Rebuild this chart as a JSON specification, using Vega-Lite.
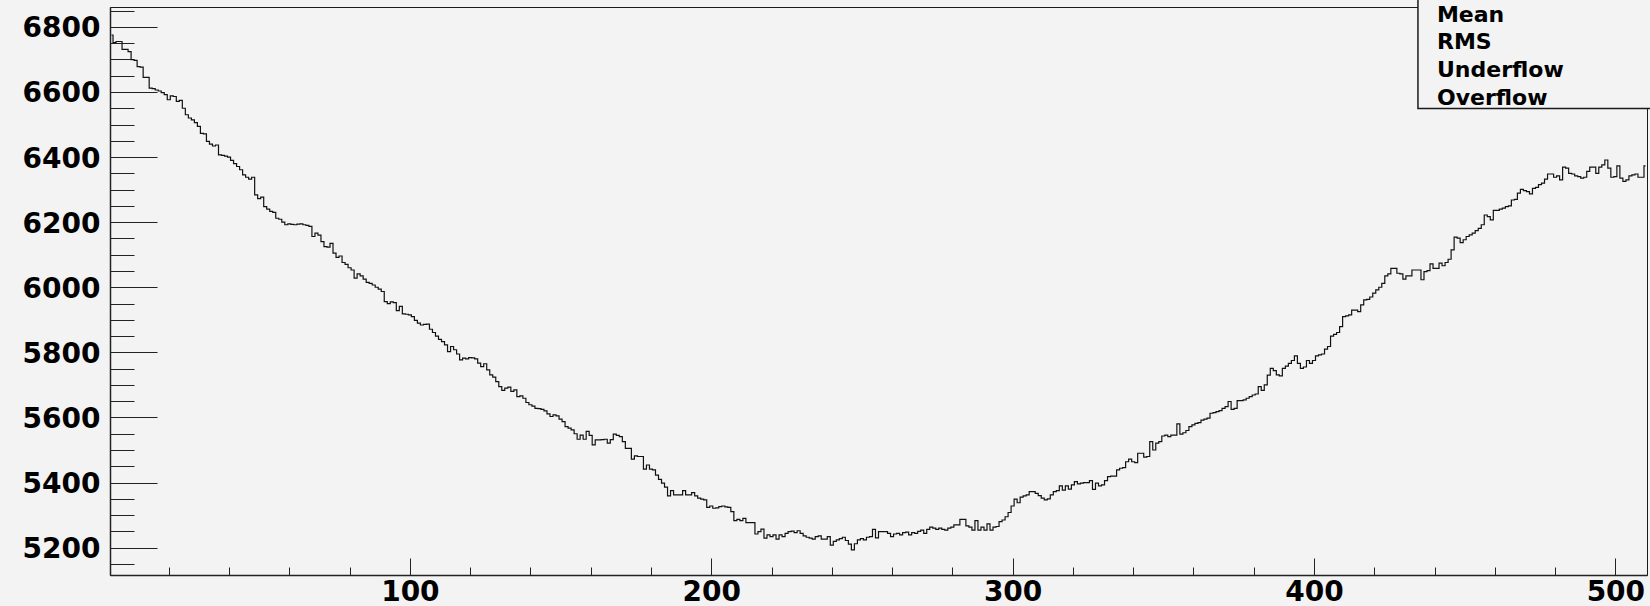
{
  "$schema": "https://vega.github.io/schema/vega-lite/v6.json",
  "width": 1537,
  "height": 568,
  "autosize": {"type": "none"},
  "padding": {"left": 110, "top": 7, "right": 3, "bottom": 31},
  "background": "#f3f3f3",
  "config": {
    "view": {"stroke": "#1a1a1a", "strokeWidth": 1, "fill": "#f3f3f3"},
    "axis": {
      "grid": false,
      "title": null,
      "labelFont": "DejaVu Sans",
      "labelFontWeight": "bold",
      "labelFontSize": 28,
      "labelColor": "#000",
      "labelOverlap": false,
      "labelFlush": false,
      "tickColor": "#222",
      "tickWidth": 1,
      "domainColor": "#222",
      "domainWidth": 1.5
    }
  },
  "datasets": {
    "spectrum": [
      {"ch":1,"n":6775},{"ch":2,"n":6752},{"ch":3,"n":6755},{"ch":4,"n":6755},{"ch":5,"n":6731},{"ch":6,"n":6731},{"ch":7,"n":6724},{"ch":8,"n":6699},{"ch":9,"n":6697},{"ch":10,"n":6678},
      {"ch":11,"n":6676},{"ch":12,"n":6645},{"ch":13,"n":6645},{"ch":14,"n":6612},{"ch":15,"n":6610},{"ch":16,"n":6606},{"ch":17,"n":6603},{"ch":18,"n":6598},{"ch":19,"n":6592},{"ch":20,"n":6576},
      {"ch":21,"n":6588},{"ch":22,"n":6586},{"ch":23,"n":6571},{"ch":24,"n":6574},{"ch":25,"n":6550},{"ch":26,"n":6530},{"ch":27,"n":6520},{"ch":28,"n":6514},{"ch":29,"n":6506},{"ch":30,"n":6494},
      {"ch":31,"n":6473},{"ch":32,"n":6471},{"ch":33,"n":6448},{"ch":34,"n":6440},{"ch":35,"n":6434},{"ch":36,"n":6437},{"ch":37,"n":6407},{"ch":38,"n":6405},{"ch":39,"n":6403},{"ch":40,"n":6400},
      {"ch":41,"n":6390},{"ch":42,"n":6380},{"ch":43,"n":6371},{"ch":44,"n":6361},{"ch":45,"n":6345},{"ch":46,"n":6338},{"ch":47,"n":6332},{"ch":48,"n":6338},{"ch":49,"n":6284},{"ch":50,"n":6272},
      {"ch":51,"n":6277},{"ch":52,"n":6248},{"ch":53,"n":6240},{"ch":54,"n":6233},{"ch":55,"n":6230},{"ch":56,"n":6212},{"ch":57,"n":6209},{"ch":58,"n":6200},{"ch":59,"n":6192},{"ch":60,"n":6195},
      {"ch":61,"n":6193},{"ch":62,"n":6192},{"ch":63,"n":6194},{"ch":64,"n":6195},{"ch":65,"n":6192},{"ch":66,"n":6190},{"ch":67,"n":6187},{"ch":68,"n":6156},{"ch":69,"n":6166},{"ch":70,"n":6160},
      {"ch":71,"n":6140},{"ch":72,"n":6125},{"ch":73,"n":6123},{"ch":74,"n":6135},{"ch":75,"n":6105},{"ch":76,"n":6092},{"ch":77,"n":6096},{"ch":78,"n":6076},{"ch":79,"n":6070},{"ch":80,"n":6060},
      {"ch":81,"n":6053},{"ch":82,"n":6028},{"ch":83,"n":6041},{"ch":84,"n":6035},{"ch":85,"n":6025},{"ch":86,"n":6015},{"ch":87,"n":6012},{"ch":88,"n":6007},{"ch":89,"n":6000},{"ch":90,"n":5994},
      {"ch":91,"n":5987},{"ch":92,"n":5956},{"ch":93,"n":5950},{"ch":94,"n":5955},{"ch":95,"n":5953},{"ch":96,"n":5928},{"ch":97,"n":5941},{"ch":98,"n":5918},{"ch":99,"n":5917},{"ch":100,"n":5915},
      {"ch":101,"n":5910},{"ch":102,"n":5898},{"ch":103,"n":5890},{"ch":104,"n":5884},{"ch":105,"n":5886},{"ch":106,"n":5887},{"ch":107,"n":5871},{"ch":108,"n":5861},{"ch":109,"n":5850},{"ch":110,"n":5840},
      {"ch":111,"n":5833},{"ch":112,"n":5823},{"ch":113,"n":5802},{"ch":114,"n":5818},{"ch":115,"n":5808},{"ch":116,"n":5795},{"ch":117,"n":5777},{"ch":118,"n":5782},{"ch":119,"n":5780},{"ch":120,"n":5784},
      {"ch":121,"n":5783},{"ch":122,"n":5780},{"ch":123,"n":5767},{"ch":124,"n":5756},{"ch":125,"n":5765},{"ch":126,"n":5746},{"ch":127,"n":5731},{"ch":128,"n":5724},{"ch":129,"n":5710},{"ch":130,"n":5695},
      {"ch":131,"n":5683},{"ch":132,"n":5690},{"ch":133,"n":5693},{"ch":134,"n":5680},{"ch":135,"n":5685},{"ch":136,"n":5664},{"ch":137,"n":5666},{"ch":138,"n":5659},{"ch":139,"n":5646},{"ch":140,"n":5639},
      {"ch":141,"n":5635},{"ch":142,"n":5628},{"ch":143,"n":5627},{"ch":144,"n":5625},{"ch":145,"n":5620},{"ch":146,"n":5611},{"ch":147,"n":5603},{"ch":148,"n":5608},{"ch":149,"n":5605},{"ch":150,"n":5595},
      {"ch":151,"n":5587},{"ch":152,"n":5572},{"ch":153,"n":5567},{"ch":154,"n":5562},{"ch":155,"n":5550},{"ch":156,"n":5533},{"ch":157,"n":5546},{"ch":158,"n":5533},{"ch":159,"n":5557},{"ch":160,"n":5545},
      {"ch":161,"n":5516},{"ch":162,"n":5531},{"ch":163,"n":5531},{"ch":164,"n":5532},{"ch":165,"n":5533},{"ch":166,"n":5521},{"ch":167,"n":5532},{"ch":168,"n":5549},{"ch":169,"n":5545},{"ch":170,"n":5541},
      {"ch":171,"n":5526},{"ch":172,"n":5505},{"ch":173,"n":5505},{"ch":174,"n":5472},{"ch":175,"n":5482},{"ch":176,"n":5480},{"ch":177,"n":5480},{"ch":178,"n":5441},{"ch":179,"n":5454},{"ch":180,"n":5441},
      {"ch":181,"n":5439},{"ch":182,"n":5423},{"ch":183,"n":5410},{"ch":184,"n":5398},{"ch":185,"n":5386},{"ch":186,"n":5359},{"ch":187,"n":5375},{"ch":188,"n":5362},{"ch":189,"n":5362},{"ch":190,"n":5362},
      {"ch":191,"n":5375},{"ch":192,"n":5362},{"ch":193,"n":5362},{"ch":194,"n":5369},{"ch":195,"n":5359},{"ch":196,"n":5352},{"ch":197,"n":5349},{"ch":198,"n":5347},{"ch":199,"n":5324},{"ch":200,"n":5328},
      {"ch":201,"n":5321},{"ch":202,"n":5322},{"ch":203,"n":5326},{"ch":204,"n":5328},{"ch":205,"n":5325},{"ch":206,"n":5324},{"ch":207,"n":5311},{"ch":208,"n":5283},{"ch":209,"n":5287},{"ch":210,"n":5283},
      {"ch":211,"n":5290},{"ch":212,"n":5277},{"ch":213,"n":5277},{"ch":214,"n":5277},{"ch":215,"n":5242},{"ch":216,"n":5249},{"ch":217,"n":5257},{"ch":218,"n":5229},{"ch":219,"n":5239},{"ch":220,"n":5234},
      {"ch":221,"n":5239},{"ch":222,"n":5226},{"ch":223,"n":5239},{"ch":224,"n":5234},{"ch":225,"n":5244},{"ch":226,"n":5249},{"ch":227,"n":5251},{"ch":228,"n":5246},{"ch":229,"n":5252},{"ch":230,"n":5244},
      {"ch":231,"n":5236},{"ch":232,"n":5232},{"ch":233,"n":5229},{"ch":234,"n":5226},{"ch":235,"n":5234},{"ch":236,"n":5236},{"ch":237,"n":5226},{"ch":238,"n":5226},{"ch":239,"n":5234},{"ch":240,"n":5208},
      {"ch":241,"n":5219},{"ch":242,"n":5224},{"ch":243,"n":5228},{"ch":244,"n":5232},{"ch":245,"n":5222},{"ch":246,"n":5211},{"ch":247,"n":5193},{"ch":248,"n":5212},{"ch":249,"n":5224},{"ch":250,"n":5228},
      {"ch":251,"n":5224},{"ch":252,"n":5232},{"ch":253,"n":5234},{"ch":254,"n":5256},{"ch":255,"n":5230},{"ch":256,"n":5249},{"ch":257,"n":5249},{"ch":258,"n":5249},{"ch":259,"n":5244},{"ch":260,"n":5234},
      {"ch":261,"n":5242},{"ch":262,"n":5244},{"ch":263,"n":5239},{"ch":264,"n":5246},{"ch":265,"n":5248},{"ch":266,"n":5239},{"ch":267,"n":5246},{"ch":268,"n":5244},{"ch":269,"n":5250},{"ch":270,"n":5254},
      {"ch":271,"n":5244},{"ch":272,"n":5256},{"ch":273,"n":5263},{"ch":274,"n":5260},{"ch":275,"n":5256},{"ch":276,"n":5260},{"ch":277,"n":5256},{"ch":278,"n":5254},{"ch":279,"n":5260},{"ch":280,"n":5263},
      {"ch":281,"n":5270},{"ch":282,"n":5270},{"ch":283,"n":5287},{"ch":284,"n":5287},{"ch":285,"n":5267},{"ch":286,"n":5263},{"ch":287,"n":5254},{"ch":288,"n":5283},{"ch":289,"n":5254},{"ch":290,"n":5263},
      {"ch":291,"n":5254},{"ch":292,"n":5273},{"ch":293,"n":5254},{"ch":294,"n":5263},{"ch":295,"n":5265},{"ch":296,"n":5280},{"ch":297,"n":5285},{"ch":298,"n":5295},{"ch":299,"n":5308},{"ch":300,"n":5328},
      {"ch":301,"n":5349},{"ch":302,"n":5338},{"ch":303,"n":5355},{"ch":304,"n":5359},{"ch":305,"n":5362},{"ch":306,"n":5372},{"ch":307,"n":5372},{"ch":308,"n":5367},{"ch":309,"n":5360},{"ch":310,"n":5352},
      {"ch":311,"n":5347},{"ch":312,"n":5350},{"ch":313,"n":5362},{"ch":314,"n":5372},{"ch":315,"n":5375},{"ch":316,"n":5390},{"ch":317,"n":5377},{"ch":318,"n":5390},{"ch":319,"n":5380},{"ch":320,"n":5393},
      {"ch":321,"n":5403},{"ch":322,"n":5396},{"ch":323,"n":5398},{"ch":324,"n":5400},{"ch":325,"n":5400},{"ch":326,"n":5406},{"ch":327,"n":5379},{"ch":328,"n":5398},{"ch":329,"n":5390},{"ch":330,"n":5393},
      {"ch":331,"n":5406},{"ch":332,"n":5418},{"ch":333,"n":5420},{"ch":334,"n":5420},{"ch":335,"n":5439},{"ch":336,"n":5444},{"ch":337,"n":5446},{"ch":338,"n":5464},{"ch":339,"n":5472},{"ch":340,"n":5464},
      {"ch":341,"n":5461},{"ch":342,"n":5490},{"ch":343,"n":5490},{"ch":344,"n":5478},{"ch":345,"n":5480},{"ch":346,"n":5526},{"ch":347,"n":5500},{"ch":348,"n":5521},{"ch":349,"n":5526},{"ch":350,"n":5543},
      {"ch":351,"n":5546},{"ch":352,"n":5541},{"ch":353,"n":5546},{"ch":354,"n":5546},{"ch":355,"n":5580},{"ch":356,"n":5549},{"ch":357,"n":5553},{"ch":358,"n":5560},{"ch":359,"n":5572},{"ch":360,"n":5577},
      {"ch":361,"n":5582},{"ch":362,"n":5584},{"ch":363,"n":5592},{"ch":364,"n":5595},{"ch":365,"n":5598},{"ch":366,"n":5613},{"ch":367,"n":5615},{"ch":368,"n":5618},{"ch":369,"n":5621},{"ch":370,"n":5628},
      {"ch":371,"n":5633},{"ch":372,"n":5649},{"ch":373,"n":5625},{"ch":374,"n":5628},{"ch":375,"n":5652},{"ch":376,"n":5652},{"ch":377,"n":5654},{"ch":378,"n":5659},{"ch":379,"n":5664},{"ch":380,"n":5669},
      {"ch":381,"n":5672},{"ch":382,"n":5695},{"ch":383,"n":5683},{"ch":384,"n":5700},{"ch":385,"n":5730},{"ch":386,"n":5751},{"ch":387,"n":5744},{"ch":388,"n":5731},{"ch":389,"n":5728},{"ch":390,"n":5751},
      {"ch":391,"n":5758},{"ch":392,"n":5766},{"ch":393,"n":5775},{"ch":394,"n":5789},{"ch":395,"n":5766},{"ch":396,"n":5751},{"ch":397,"n":5755},{"ch":398,"n":5775},{"ch":399,"n":5766},{"ch":400,"n":5775},
      {"ch":401,"n":5789},{"ch":402,"n":5792},{"ch":403,"n":5795},{"ch":404,"n":5810},{"ch":405,"n":5818},{"ch":406,"n":5850},{"ch":407,"n":5855},{"ch":408,"n":5861},{"ch":409,"n":5879},{"ch":410,"n":5910},
      {"ch":411,"n":5912},{"ch":412,"n":5915},{"ch":413,"n":5930},{"ch":414,"n":5930},{"ch":415,"n":5925},{"ch":416,"n":5946},{"ch":417,"n":5961},{"ch":418,"n":5963},{"ch":419,"n":5970},{"ch":420,"n":5982},
      {"ch":421,"n":5992},{"ch":422,"n":6000},{"ch":423,"n":6012},{"ch":424,"n":6035},{"ch":425,"n":6041},{"ch":426,"n":6058},{"ch":427,"n":6058},{"ch":428,"n":6043},{"ch":429,"n":6041},{"ch":430,"n":6025},
      {"ch":431,"n":6035},{"ch":432,"n":6035},{"ch":433,"n":6053},{"ch":434,"n":6053},{"ch":435,"n":6053},{"ch":436,"n":6023},{"ch":437,"n":6048},{"ch":438,"n":6051},{"ch":439,"n":6072},{"ch":440,"n":6058},
      {"ch":441,"n":6058},{"ch":442,"n":6074},{"ch":443,"n":6066},{"ch":444,"n":6076},{"ch":445,"n":6086},{"ch":446,"n":6115},{"ch":447,"n":6154},{"ch":448,"n":6151},{"ch":449,"n":6137},{"ch":450,"n":6146},
      {"ch":451,"n":6156},{"ch":452,"n":6161},{"ch":453,"n":6166},{"ch":454,"n":6174},{"ch":455,"n":6181},{"ch":456,"n":6192},{"ch":457,"n":6222},{"ch":458,"n":6217},{"ch":459,"n":6207},{"ch":460,"n":6236},
      {"ch":461,"n":6236},{"ch":462,"n":6240},{"ch":463,"n":6243},{"ch":464,"n":6248},{"ch":465,"n":6250},{"ch":466,"n":6268},{"ch":467,"n":6270},{"ch":468,"n":6289},{"ch":469,"n":6301},{"ch":470,"n":6297},
      {"ch":471,"n":6294},{"ch":472,"n":6287},{"ch":473,"n":6304},{"ch":474,"n":6307},{"ch":475,"n":6315},{"ch":476,"n":6320},{"ch":477,"n":6332},{"ch":478,"n":6348},{"ch":479,"n":6348},{"ch":480,"n":6338},
      {"ch":481,"n":6342},{"ch":482,"n":6330},{"ch":483,"n":6369},{"ch":484,"n":6366},{"ch":485,"n":6350},{"ch":486,"n":6348},{"ch":487,"n":6342},{"ch":488,"n":6340},{"ch":489,"n":6335},{"ch":490,"n":6338},
      {"ch":491,"n":6356},{"ch":492,"n":6369},{"ch":493,"n":6369},{"ch":494,"n":6350},{"ch":495,"n":6369},{"ch":496,"n":6376},{"ch":497,"n":6391},{"ch":498,"n":6366},{"ch":499,"n":6338},{"ch":500,"n":6340},
      {"ch":501,"n":6373},{"ch":502,"n":6335},{"ch":503,"n":6325},{"ch":504,"n":6330},{"ch":505,"n":6342},{"ch":506,"n":6345},{"ch":507,"n":6348},{"ch":508,"n":6338},{"ch":509,"n":6338},{"ch":510,"n":6373}
    ]
  },
  "layer": [
    {
      "data": {"name": "spectrum"},
      "mark": {"type": "line", "interpolate": "step", "color": "#111", "strokeWidth": 1.2},
      "encoding": {
        "x": {
          "field": "ch", "type": "quantitative",
          "scale": {"domain": [0.5, 510.5], "nice": false, "zero": false},
          "axis": {"orient": "bottom", "values": [100, 200, 300, 400, 500], "format": "d", "tickSize": -17, "labelPadding": 20}
        },
        "y": {
          "field": "n", "type": "quantitative",
          "scale": {"domain": [5116, 6861], "nice": false, "zero": false},
          "axis": {"orient": "left", "values": [5200, 5400, 5600, 5800, 6000, 6200, 6400, 6600, 6800], "format": "d", "tickSize": -47, "labelPadding": 57, "labelOffset": 2}
        }
      }
    },
    {
      "data": {"values": [{}]},
      "mark": {"type": "rect", "fill": "#f3f3f3", "stroke": "#1a1a1a", "strokeWidth": 1.5},
      "encoding": {
        "x": {
          "datum": 434.5, "type": "quantitative",
          "scale": {"domain": [0.5, 510.5], "nice": false, "zero": false},
          "axis": {"orient": "bottom", "values": [20, 40, 60, 80, 120, 140, 160, 180, 220, 240, 260, 280, 320, 340, 360, 380, 420, 440, 460, 480], "tickSize": -8, "labels": false, "domain": false}
        },
        "x2": {"datum": 530},
        "y": {
          "datum": 6890, "type": "quantitative",
          "scale": {"domain": [5116, 6861], "nice": false, "zero": false},
          "axis": {"orient": "left", "values": [5150, 5250, 5300, 5350, 5450, 5500, 5550, 5650, 5700, 5750, 5850, 5900, 5950, 6050, 6100, 6150, 6250, 6300, 6350, 6450, 6500, 6550, 6650, 6700, 6750, 6850], "tickSize": -24, "labels": false, "domain": false}
        },
        "y2": {"datum": 6549}
      }
    },
    {
      "data": {"values": [{}]},
      "mark": {"type": "text", "font": "DejaVu Sans", "fontWeight": "bold", "fontSize": 22, "align": "left", "baseline": "alphabetic", "lineHeight": 27.8, "color": "#000"},
      "encoding": {
        "x": {"datum": 440.8, "type": "quantitative", "scale": {"domain": [0.5, 510.5], "nice": false, "zero": false}, "axis": null},
        "y": {"datum": 6816, "type": "quantitative", "scale": {"domain": [5116, 6861], "nice": false, "zero": false}, "axis": null},
        "text": {"value": ["Mean", "RMS", "Underflow", "Overflow"]}
      }
    }
  ],
  "resolve": {"axis": {"x": "independent", "y": "independent"}}
}
